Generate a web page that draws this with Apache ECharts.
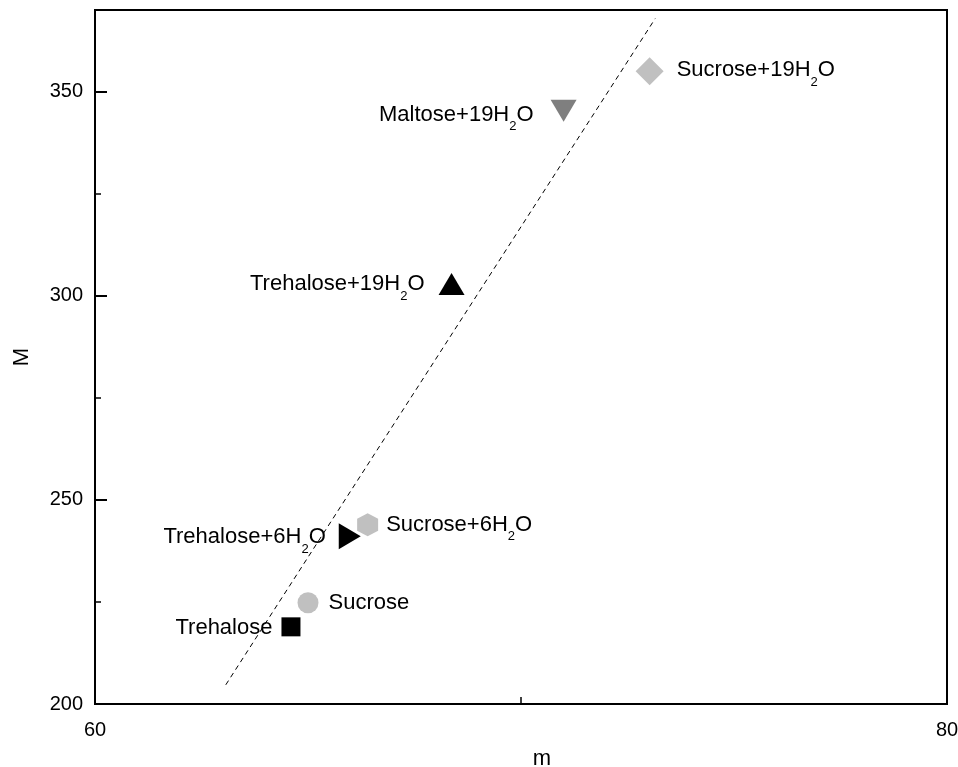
<!DOCTYPE html>
<html><head><meta charset="utf-8">
<script src="https://cdn.jsdelivr.net/npm/echarts@6/dist/echarts.min.js"></script>
<style>html,body{margin:0;padding:0;background:#fff}#c{width:958px;height:767px}</style>
</head><body><div id="c"></div>
<script>
// ---- data ----
const names = ['Trehalose', 'Sucrose', 'Trehalose+6H2O', 'Sucrose+6H2O', 'Trehalose+19H2O', 'Maltose+19H2O', 'Sucrose+19H2O'];
const mValues = [64.60, 65.00, 65.98, 66.40, 68.37, 71.00, 73.02];
const MValues = [218.9, 224.8, 241.1, 243.9, 302.9, 345.3, 355.0];
const fitLineM = [63.07, 73.15];
const fitLineMy = [204.7, 367.9];
const xTickLabels = [60, 80];
const yTickLabels = [200, 250, 300, 350];

// ---- styles ----
const FONT = "'Liberation Sans', Arial, Helvetica, sans-serif";
const hexPath = 'path://M10,0 L20,5.5 L20,17.5 L10,23 L0,17.5 L0,5.5 Z';
const styles = [
  { symbol: 'rect', size: 19, rotate: 0, color: '#000000', pos: 'left', dist: 9, off: [0, 1] },
  { symbol: 'circle', size: 21, rotate: 0, color: '#c0c0c0', pos: 'right', dist: 10, off: [0, 0] },
  { symbol: 'triangle', size: [26, 22], rotate: -90, color: '#000000', pos: 'left', dist: 13, off: [0, 1] },
  { symbol: hexPath, size: [21, 23], rotate: 0, color: '#c0c0c0', pos: 'right', dist: 8, off: [0, 0] },
  { symbol: 'triangle', size: [26, 22], rotate: 0, color: '#000000', pos: 'left', dist: 14, off: [0, 0] },
  { symbol: 'triangle', size: [26, 22], rotate: 180, color: '#7f7f7f', pos: 'left', dist: 17, off: [0, 4] },
  { symbol: 'diamond', size: 28, rotate: 0, color: '#c0c0c0', pos: 'right', dist: 13, off: [0, -1] }
];

function richName(n) {
  const m = n.match(/^(.*H)2O$/);
  if (m) return '{a|' + m[1] + '}{s|2}{a|O}';
  return '{a|' + n + '}';
}

const rich = {
  a: { fontSize: 22, fontFamily: FONT, color: '#000' },
  s: { fontSize: 13, fontFamily: FONT, color: '#000', padding: [24, 0, 0, 0] }
};

const series = [{
  type: 'line',
  data: fitLineM.map((v, i) => [v, fitLineMy[i]]),
  showSymbol: false,
  symbol: 'none',
  silent: true,
  lineStyle: { color: '#000', width: 1, type: [5, 4] },
  z: 3
}];

names.forEach((n, i) => {
  const s = styles[i];
  series.push({
    type: 'scatter',
    name: n,
    data: [[mValues[i], MValues[i]]],
    symbol: s.symbol,
    symbolSize: s.size,
    symbolRotate: s.rotate,
    itemStyle: { color: s.color, opacity: 1 },
    label: {
      show: true,
      position: s.pos,
      distance: s.dist,
      offset: s.off,
      formatter: () => richName(n),
      rich: rich
    },
    z: 2
  });
});

const chart = echarts.init(document.getElementById('c'), null, { renderer: 'canvas' });
chart.setOption({
  animation: false,
  backgroundColor: '#fff',
  grid: {
    left: 95, right: 11, top: 10, bottom: 63,
    containLabel: false, outerBoundsMode: 'none',
    show: true, borderColor: '#000', borderWidth: 2, backgroundColor: 'transparent'
  },
  xAxis: {
    type: 'value', min: 60, max: 80, interval: 20,
    name: 'm', nameLocation: 'middle', nameGap: 44,
    nameTextStyle: { fontSize: 22, fontFamily: FONT, color: '#000', padding: [0, 0, 0, 42] },
    axisLine: { show: true, lineStyle: { color: '#000', width: 2 } },
    axisTick: { show: true, inside: true, length: 11, lineStyle: { color: '#000', width: 2 } },
    minorTick: { show: true, splitNumber: 2, length: 7, lineStyle: { color: '#000', width: 1.5 } },
    splitLine: { show: false },
    minorSplitLine: { show: false },
    axisLabel: {
      fontSize: 20, fontFamily: FONT, color: '#000', margin: 16,
      formatter: v => xTickLabels.indexOf(v) >= 0 ? String(v) : ''
    }
  },
  yAxis: [{
    type: 'value', min: 200, max: 370, interval: 50, position: 'left',
    name: 'M', nameLocation: 'middle', nameGap: 62,
    nameTextStyle: { fontSize: 22, fontFamily: FONT, color: '#000' },
    axisLine: { show: true, lineStyle: { color: '#000', width: 2 } },
    axisTick: { show: true, inside: true, length: 12, lineStyle: { color: '#000', width: 2 } },
    splitLine: { show: false },
    axisLabel: {
      fontSize: 20, fontFamily: FONT, color: '#000', margin: 12,
      showMaxLabel: false,
      formatter: v => yTickLabels.indexOf(v) >= 0 ? String(v) : ''
    }
  }, {
    type: 'value', min: 200, max: 370, interval: 25, position: 'left',
    axisLine: { show: false },
    axisTick: { show: true, inside: true, length: 6, lineStyle: { color: '#000', width: 1.5 } },
    splitLine: { show: false },
    axisLabel: { show: false }
  }],
  series: series
});
</script>
</body></html>
